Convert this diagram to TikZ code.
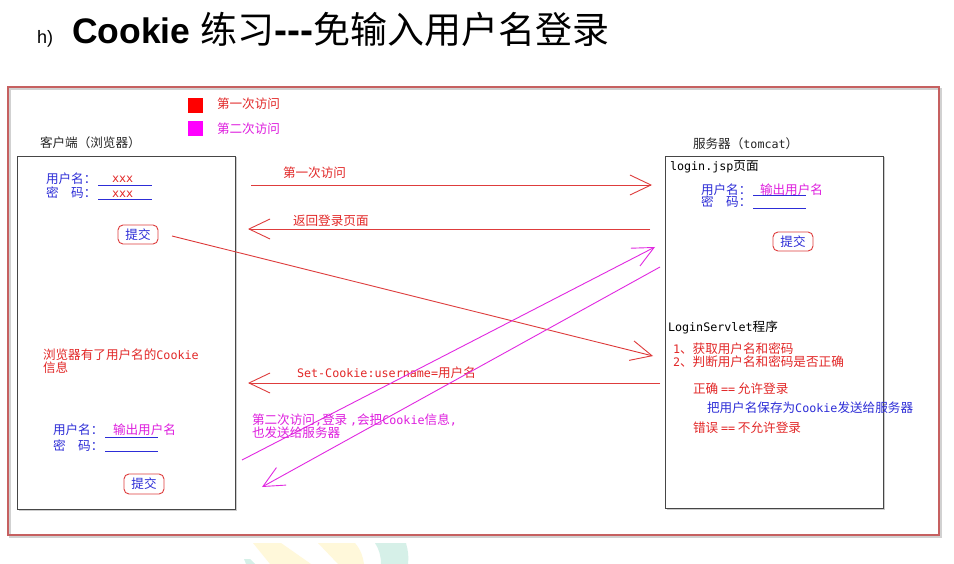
\documentclass[tikz,border=0pt]{standalone}
\usepackage{fontspec}
\setmainfont{Noto Sans CJK SC}
\newfontfamily\mono{DejaVu Sans Mono}[Scale=0.93]
\newfontfamily\titlefont{Liberation Sans}
\usetikzlibrary{arrows.meta}

\definecolor{framered}{RGB}{198,96,96}
\definecolor{arrowred}{RGB}{222,60,60}
\definecolor{txtred}{RGB}{226,40,40}
\definecolor{txtblue}{RGB}{45,45,215}
\definecolor{txtmag}{RGB}{222,30,222}
\definecolor{linemag}{RGB}{225,40,225}
\definecolor{boxgray}{RGB}{70,70,70}
\definecolor{keyred}{RGB}{255,0,0}
\definecolor{keymag}{RGB}{255,0,255}
\definecolor{wmyellow}{RGB}{255,248,218}
\definecolor{wmteal}{RGB}{214,240,232}

\tikzset{
  txt/.style={anchor=base west, inner sep=0pt, outer sep=0pt,
              font=\fontsize{12.6}{13}\selectfont},
  redtxt/.style={txt, text=txtred},
  bluetxt/.style={txt, text=txtblue},
  magtxt/.style={txt, text=txtmag},
  darktxt/.style={txt, text=black!85},
  panel/.style={draw=boxgray, line width=1.1pt, anchor=north west,
                inner sep=0pt, fill=white},
  submitbtn/.style={draw=arrowred, line width=0.9pt, rounded corners=5pt,
                    text=txtblue, minimum width=40pt, minimum height=19pt,
                    inner sep=0pt, font=\fontsize{12.6}{13}\selectfont},
  uline/.style={draw=txtblue, line width=0.9pt},
  redflow/.style={draw=arrowred, line width=0.9pt,
                  -{Straight Barb[length=21pt,width=20pt,line width=0.9pt]}},
  magflow/.style={draw=linemag, line width=0.9pt,
                  -{Straight Barb[length=21pt,width=20pt,line width=0.9pt]}},
  legendsq/.style={minimum width=15pt, minimum height=15pt, inner sep=0pt}
}

\begin{document}
\begin{tikzpicture}[x=1pt,y=-1pt]
  \fill[white] (0,0) rectangle (954,564);
  \useasboundingbox (0,0) rectangle (954,564);

  % heading
  \node[anchor=base west, inner sep=0pt, font=\titlefont\fontsize{18}{20}\selectfont] (hmark) at (37,44) {h)};
  \node[anchor=base west, inner sep=0pt] (heading) at (72,44)
    {{\titlefont\bfseries\fontsize{35.5}{40}\selectfont Cookie }{\fontsize{37}{40}\selectfont 练习}{\titlefont\bfseries\fontsize{39}{40}\selectfont ---}{\fontsize{37}{40}\selectfont 免输入用户名登录}};

  % faint logo at the bottom edge
  \fill[wmyellow] (253,543) -- (281,543) -- (311,564) -- (270,564) -- cycle;
  \fill[wmyellow] (318,543) -- (355,543) .. controls (361,550) and (363,557) .. (364,564) -- (338,564) -- cycle;
  \fill[wmteal] (375,543) -- (406,543) .. controls (408,550) and (409,557) .. (408,564) -- (381,564) .. controls (381,556) and (379,549) .. (375,543) -- cycle;
  \fill[wmteal] (244,559) -- (250,559) -- (255,564) -- (246,564) -- cycle;

  % outer frame with its shadow
  \draw[black!18, line width=2.4pt] (10,89) rectangle (941,537);
  \draw[framered, line width=1.7pt] (8,87) rectangle (939,535);

  % legend
  \node[legendsq, fill=keyred] (leg1sq) at (195,105.5) {};
  \node[legendsq, fill=keymag] (leg2sq) at (195,128.5) {};
  \node[redtxt] (leg1) at (217,108.8) {第一次访问};
  \node[magtxt] (leg2) at (217,133.3) {第二次访问};

  % client side
  \node[darktxt] (cltitle) at (40,147.8) {客户端（浏览器）};
  \draw[black!20, line width=1pt] (18.5,510.5) -- (236.5,510.5) -- (236.5,157.5);
  \node[panel, minimum width=218pt, minimum height=353pt] (client) at (17,156) {};

  \node[bluetxt] (cuser1) at (46,183.5) {用户名：};
  \node[txt, text=txtred] (cxxx1) at (112,182.8) {\mono xxx};
  \draw[uline] (98,185) -- (152,185);
  \node[bluetxt] (cpass1) at (46,197.8) {密\hspace{12.6pt}码：};
  \node[txt, text=txtred] (cxxx2) at (112,197.2) {\mono xxx};
  \draw[uline] (98,199) -- (152,199);
  \node[submitbtn] (btn1) at (138,234.5) {提交};

  \node[redtxt] (cmsg1) at (43,359.8) {浏览器有了用户名的{\mono Cookie}};
  \node[redtxt] (cmsg2) at (43,372.8) {信息};

  \node[bluetxt] (cuser2) at (53,434.8) {用户名：};
  \node[magtxt] (cname2) at (113,434.8) {输出用户名};
  \draw[uline] (105,437) -- (158,437);
  \node[bluetxt] (cpass2) at (53,450.3) {密\hspace{12.6pt}码：};
  \draw[uline] (105,451) -- (158,451);
  \node[submitbtn, minimum height=20pt] (btn2) at (144,484) {提交};

  % server side
  \node[darktxt] (svtitle) at (693,148.8) {服务器（{\mono tomcat}）};
  \draw[black!20, line width=1pt] (666.5,509.5) -- (884.5,509.5) -- (884.5,157.5);
  \node[panel, minimum width=218pt, minimum height=352pt] (server) at (665,156) {};

  \node[txt, text=black] (jsp) at (670,170.8) {{\mono login.jsp}页面};
  \node[bluetxt] (suser) at (701,194.8) {用户名：};
  \node[magtxt] (sname) at (760,194.8) {输出用户名};
  \draw[uline] (753,195) -- (806,195);
  \node[bluetxt] (spass) at (701,206.8) {密\hspace{12.6pt}码：};
  \draw[uline] (753,208) -- (806,208);
  \node[submitbtn] (btn3) at (793,241.5) {提交};

  \node[txt, text=black] (servlet) at (668,331.5) {{\mono LoginServlet}程序};
  \node[redtxt] (step1) at (673,353.8) {{\mono 1}、获取用户名和密码};
  \node[redtxt] (step2) at (673,366.8) {{\mono 2}、判断用户名和密码是否正确};
  \node[redtxt] (okline) at (693,393.8) {正确 {\mono ==} 允许登录};
  \node[bluetxt] (saveline) at (707,412.8) {把用户名保存为{\mono Cookie}发送给服务器};
  \node[redtxt] (badline) at (693,432.8) {错误 {\mono ==} 不允许登录};

  % end points of the request / response arrows
  \coordinate (a1s) at (251,185);  \coordinate (a1e) at (652,185);
  \coordinate (a2s) at (650,229);  \coordinate (a2e) at (248,229);
  \coordinate (a3s) at (172,236);  \coordinate (a3e) at (653,356);
  \coordinate (a4s) at (660,383);  \coordinate (a4e) at (248,383);
  \coordinate (m1s) at (242,460);  \coordinate (m1e) at (655,247);
  \coordinate (m2s) at (660,267);  \coordinate (m2e) at (262,487);

  % first visit
  \draw[redflow] (a1s) -- (a1e);
  \node[redtxt] (lbl1) at (283,177.8) {第一次访问};
  \draw[redflow] (a2s) -- (a2e);
  \node[redtxt] (lbl2) at (293,225.3) {返回登录页面};
  \draw[redflow] (a3s) -- (a3e);
  \draw[redflow] (a4s) -- (a4e);
  \node[redtxt] (lbl4) at (297,377.3) {{\mono Set-Cookie:username=}用户名};

  % second visit
  \draw[magflow] (m1s) -- (m1e);
  \draw[magflow] (m2s) -- (m2e);
  \node[magtxt] (lbl5) at (252,424.3) {第二次访问{\mono ,}登录 {\mono ,}会把{\mono Cookie}信息{\mono ,}};
  \node[magtxt] (lbl6) at (252,437.3) {也发送给服务器};
\end{tikzpicture}
\end{document}
